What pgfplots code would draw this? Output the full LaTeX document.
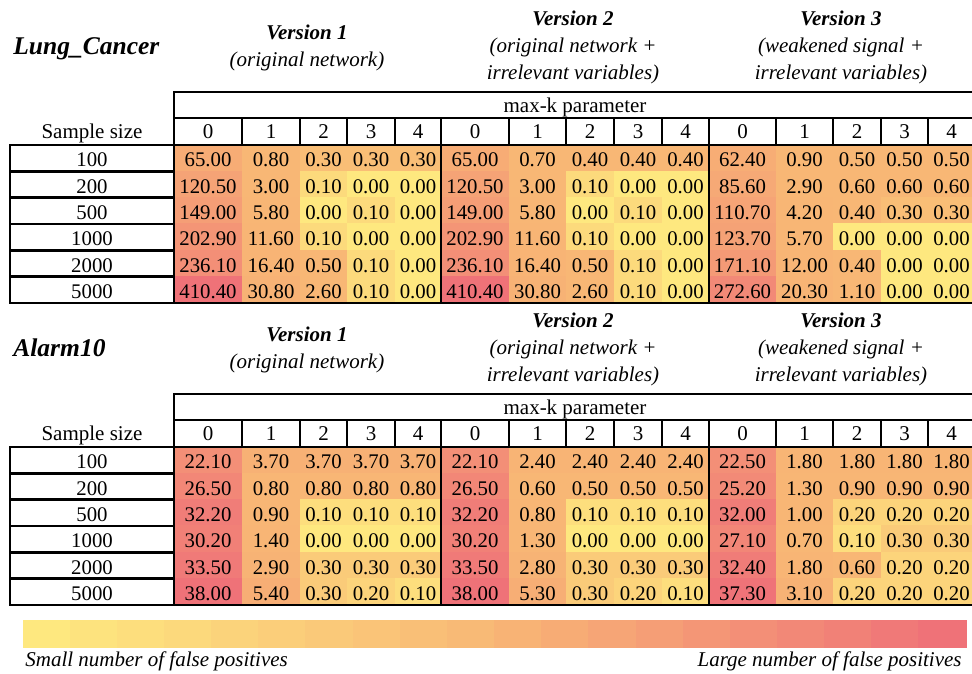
\documentclass[border=0pt]{standalone}
\usepackage{pgfplots}
\pgfplotsset{compat=1.18}
\usepackage{pgfplotstable}
\usepackage{fontspec}
\setmainfont{Liberation Serif}
\newcommand\cellfont{\fontsize{10.4}{12}\selectfont}
\newcommand\txtfont{\fontsize{10.5}{12}\selectfont}

\pgfplotstableread{
n k0 k1 k2 k3 k4 k5 k6 k7 k8 k9 k10 k11 k12 k13 k14
100 65.00 0.80 0.30 0.30 0.30 65.00 0.70 0.40 0.40 0.40 62.40 0.90 0.50 0.50 0.50
200 120.50 3.00 0.10 0.00 0.00 120.50 3.00 0.10 0.00 0.00 85.60 2.90 0.60 0.60 0.60
500 149.00 5.80 0.00 0.10 0.00 149.00 5.80 0.00 0.10 0.00 110.70 4.20 0.40 0.30 0.30
1000 202.90 11.60 0.10 0.00 0.00 202.90 11.60 0.10 0.00 0.00 123.70 5.70 0.00 0.00 0.00
2000 236.10 16.40 0.50 0.10 0.00 236.10 16.40 0.50 0.10 0.00 171.10 12.00 0.40 0.00 0.00
5000 410.40 30.80 2.60 0.10 0.00 410.40 30.80 2.60 0.10 0.00 272.60 20.30 1.10 0.00 0.00
}\lung

\pgfplotstableread{
n k0 k1 k2 k3 k4 k5 k6 k7 k8 k9 k10 k11 k12 k13 k14
100 22.10 3.70 3.70 3.70 3.70 22.10 2.40 2.40 2.40 2.40 22.50 1.80 1.80 1.80 1.80
200 26.50 0.80 0.80 0.80 0.80 26.50 0.60 0.50 0.50 0.50 25.20 1.30 0.90 0.90 0.90
500 32.20 0.90 0.10 0.10 0.10 32.20 0.80 0.10 0.10 0.10 32.00 1.00 0.20 0.20 0.20
1000 30.20 1.40 0.00 0.00 0.00 30.20 1.30 0.00 0.00 0.00 27.10 0.70 0.10 0.30 0.30
2000 33.50 2.90 0.30 0.30 0.30 33.50 2.80 0.30 0.30 0.30 32.40 1.80 0.60 0.20 0.20
5000 38.00 5.40 0.30 0.20 0.10 38.00 5.30 0.30 0.20 0.10 37.30 3.10 0.20 0.20 0.20
}\alarm

\pgfplotstableread{
i c
0 0.0000
1 0.0526
2 0.1053
3 0.1579
4 0.2105
5 0.2632
6 0.3158
7 0.3684
8 0.4211
9 0.4737
10 0.5263
11 0.5789
12 0.6316
13 0.6842
14 0.7368
15 0.7895
16 0.8421
17 0.8947
18 0.9474
19 1.0000
}\scalebar

\pgfplotsset{
  flatsq/.style={
    scatter, only marks, mark=square*, mark size=6.75pt,
    scatter/@pre marker code/.code={%
      \pgfplotscolormapdefinemappedcolor{\pgfplotspointmetatransformed}%
      \scope[draw=mapped color, fill=mapped color, line width=0.2pt]},
    scatter/@post marker code/.code={\endscope},
  },
  cellfill/.style n args={4}{
    flatsq,
    mark options={xscale={(0.5*#2+0.2)/13.5}},
    point meta={ifthenelse(\thisrow{#1}<#3,0.5*\thisrow{#1}/#3,0.5+0.5*(\thisrow{#1}-#3)/(#4-#3))},
  },
  celltext/.style={
    only marks, mark=none,
    visualization depends on={\thisrow{#1} \as \val},
    nodes near coords={\pgfmathprintnumber[fixed,fixed zerofill,precision=2,assume math mode=true]{\val}},
    nodes near coords align={center},
    every node near coord/.style={anchor=center, inner sep=0pt,
      text height=8.7pt, text depth=0pt, font=\cellfont, text=black},
  },
  table/cellxy/.style 2 args={x expr=#1, y expr={#2+26.3333*(\coordindex+0.5)}},
}

\begin{document}
\begin{tikzpicture}
\begin{axis}[
  scale only axis, width=486pt, height=336.5pt,
  xmin=0, xmax=972, ymin=0, ymax=673, y dir=reverse,
  hide axis, enlargelimits=false, clip=false,
  colormap={fp}{rgb255=(254,232,127) rgb255=(248,183,117) rgb255=(239,114,120)},
  point meta min=0, point meta max=1,
]
% Lung_Cancer: cell colours
\addplot[cellfill={k0}{68}{0.35}{410.4}] table[cellxy={208}{145}] {\lung};
\addplot[cellfill={k1}{58}{0.35}{410.4}] table[cellxy={271}{145}] {\lung};
\addplot[cellfill={k2}{47}{0.35}{410.4}] table[cellxy={323.5}{145}] {\lung};
\addplot[cellfill={k3}{48}{0.35}{410.4}] table[cellxy={371}{145}] {\lung};
\addplot[cellfill={k4}{46}{0.35}{410.4}] table[cellxy={418}{145}] {\lung};
\addplot[cellfill={k5}{68}{0.35}{410.4}] table[cellxy={475}{145}] {\lung};
\addplot[cellfill={k6}{57}{0.35}{410.4}] table[cellxy={537.5}{145}] {\lung};
\addplot[cellfill={k7}{48}{0.35}{410.4}] table[cellxy={590}{145}] {\lung};
\addplot[cellfill={k8}{48}{0.35}{410.4}] table[cellxy={638}{145}] {\lung};
\addplot[cellfill={k9}{47}{0.35}{410.4}] table[cellxy={685.5}{145}] {\lung};
\addplot[cellfill={k10}{67}{0.35}{410.4}] table[cellxy={742.5}{145}] {\lung};
\addplot[cellfill={k11}{57}{0.35}{410.4}] table[cellxy={804.5}{145}] {\lung};
\addplot[cellfill={k12}{48}{0.35}{410.4}] table[cellxy={857}{145}] {\lung};
\addplot[cellfill={k13}{47}{0.35}{410.4}] table[cellxy={904.5}{145}] {\lung};
\addplot[cellfill={k14}{47}{0.35}{410.4}] table[cellxy={951.5}{145}] {\lung};
% Alarm10: cell colours
\addplot[cellfill={k0}{68}{0.5}{38}] table[cellxy={208}{447}] {\alarm};
\addplot[cellfill={k1}{58}{0.5}{38}] table[cellxy={271}{447}] {\alarm};
\addplot[cellfill={k2}{47}{0.5}{38}] table[cellxy={323.5}{447}] {\alarm};
\addplot[cellfill={k3}{48}{0.5}{38}] table[cellxy={371}{447}] {\alarm};
\addplot[cellfill={k4}{46}{0.5}{38}] table[cellxy={418}{447}] {\alarm};
\addplot[cellfill={k5}{68}{0.5}{38}] table[cellxy={475}{447}] {\alarm};
\addplot[cellfill={k6}{57}{0.5}{38}] table[cellxy={537.5}{447}] {\alarm};
\addplot[cellfill={k7}{48}{0.5}{38}] table[cellxy={590}{447}] {\alarm};
\addplot[cellfill={k8}{48}{0.5}{38}] table[cellxy={638}{447}] {\alarm};
\addplot[cellfill={k9}{47}{0.5}{38}] table[cellxy={685.5}{447}] {\alarm};
\addplot[cellfill={k10}{67}{0.5}{38}] table[cellxy={742.5}{447}] {\alarm};
\addplot[cellfill={k11}{57}{0.5}{38}] table[cellxy={804.5}{447}] {\alarm};
\addplot[cellfill={k12}{48}{0.5}{38}] table[cellxy={857}{447}] {\alarm};
\addplot[cellfill={k13}{47}{0.5}{38}] table[cellxy={904.5}{447}] {\alarm};
\addplot[cellfill={k14}{47}{0.5}{38}] table[cellxy={951.5}{447}] {\alarm};
% cell values
\addplot[celltext=k0] table[cellxy={208}{145}] {\lung};
\addplot[celltext=k1] table[cellxy={271}{145}] {\lung};
\addplot[celltext=k2] table[cellxy={323.5}{145}] {\lung};
\addplot[celltext=k3] table[cellxy={371}{145}] {\lung};
\addplot[celltext=k4] table[cellxy={418}{145}] {\lung};
\addplot[celltext=k5] table[cellxy={475}{145}] {\lung};
\addplot[celltext=k6] table[cellxy={537.5}{145}] {\lung};
\addplot[celltext=k7] table[cellxy={590}{145}] {\lung};
\addplot[celltext=k8] table[cellxy={638}{145}] {\lung};
\addplot[celltext=k9] table[cellxy={685.5}{145}] {\lung};
\addplot[celltext=k10] table[cellxy={742.5}{145}] {\lung};
\addplot[celltext=k11] table[cellxy={804.5}{145}] {\lung};
\addplot[celltext=k12] table[cellxy={857}{145}] {\lung};
\addplot[celltext=k13] table[cellxy={904.5}{145}] {\lung};
\addplot[celltext=k14] table[cellxy={951.5}{145}] {\lung};
\addplot[celltext=k0] table[cellxy={208}{447}] {\alarm};
\addplot[celltext=k1] table[cellxy={271}{447}] {\alarm};
\addplot[celltext=k2] table[cellxy={323.5}{447}] {\alarm};
\addplot[celltext=k3] table[cellxy={371}{447}] {\alarm};
\addplot[celltext=k4] table[cellxy={418}{447}] {\alarm};
\addplot[celltext=k5] table[cellxy={475}{447}] {\alarm};
\addplot[celltext=k6] table[cellxy={537.5}{447}] {\alarm};
\addplot[celltext=k7] table[cellxy={590}{447}] {\alarm};
\addplot[celltext=k8] table[cellxy={638}{447}] {\alarm};
\addplot[celltext=k9] table[cellxy={685.5}{447}] {\alarm};
\addplot[celltext=k10] table[cellxy={742.5}{447}] {\alarm};
\addplot[celltext=k11] table[cellxy={804.5}{447}] {\alarm};
\addplot[celltext=k12] table[cellxy={857}{447}] {\alarm};
\addplot[celltext=k13] table[cellxy={904.5}{447}] {\alarm};
\addplot[celltext=k14] table[cellxy={951.5}{447}] {\alarm};
% colour scale
\addplot[flatsq, mark options={xscale={23.8/13.5}}, point meta=\thisrow{c}]
  table[x expr={23+47.15*(\thisrow{i}+0.5)}, y expr=633.5] {\scalebar};
\end{axis}

\begin{scope}[x=0.5pt, y=-0.5pt, shift={(0,336.5pt)}, line cap=rect]
\foreach \o in {0,302}{
  \draw[line width=1.3pt] (174,\o+92) -- (975,\o+92);
  \draw[line width=1.3pt] (174,\o+118) -- (975,\o+118);
  \draw[line width=1.3pt] (10,\o+145) -- (975,\o+145);
  \draw[line width=1.3pt] (10,\o+303) -- (975,\o+303);
  \draw[line width=1.3pt] (174,\o+92) -- (174,\o+303);
  \draw[line width=1.3pt] (10,\o+145) -- (10,\o+303);
  \foreach \yy in {171.33,197.67,224,250.33,276.67}
    \draw[line width=1.3pt] (10,\o+\yy) -- (174,\o+\yy);
  \foreach \xx in {441,709}
    \draw[line width=1.3pt] (\xx,\o+118) -- (\xx,\o+303);
  \foreach \xx in {242,300,347,395,509,566,614,662,776,833,881,928}
    \draw[line width=1.1pt] (\xx,\o+118) -- (\xx,\o+145);
  \foreach \xx/\t in {208/0,271/1,323.5/2,371/3,418/4,475/0,537.5/1,590/2,638/3,685.5/4,742.5/0,804.5/1,857/2,904.5/3,951.5/4}
    \node[anchor=base, font=\txtfont, inner sep=0pt] at (\xx,\o+139) {\t};
  \node[anchor=base, font=\txtfont, inner sep=0pt] at (92,\o+139) {Sample size};
  \node[anchor=base, font=\txtfont, inner sep=0pt] at (575,\o+113) {max-k parameter};
  \foreach \t [count=\i from 0] in {100,200,500,1000,2000,5000}
    \node[anchor=base, font=\cellfont, inner sep=0pt] at (92,\o+145+26.3333*\i+21.7) {\t};
  % version headings
  \node[anchor=base, font=\txtfont\bfseries\itshape, inner sep=0pt] at (307,\o+40) {Version 1};
  \node[anchor=base, font=\txtfont\itshape, inner sep=0pt] at (307,\o+66.5) {(original network)};
  \node[anchor=base, font=\txtfont\bfseries\itshape, inner sep=0pt] at (573,\o+26) {Version 2};
  \node[anchor=base, font=\txtfont\itshape, inner sep=0pt] at (573,\o+53) {(original network +};
  \node[anchor=base, font=\txtfont\itshape, inner sep=0pt] at (573,\o+80) {irrelevant variables)};
  \node[anchor=base, font=\txtfont\bfseries\itshape, inner sep=0pt] at (841,\o+26) {Version 3};
  \node[anchor=base, font=\txtfont\itshape, inner sep=0pt] at (841,\o+53) {(weakened signal +};
  \node[anchor=base, font=\txtfont\itshape, inner sep=0pt] at (841,\o+80) {irrelevant variables)};
}
\node[anchor=base west, font=\fontsize{12.75}{15}\selectfont\bfseries\itshape, inner sep=0pt] at (13,55) {Lung\_Cancer};
\node[anchor=base west, font=\fontsize{12.75}{15}\selectfont\bfseries\itshape, inner sep=0pt] at (13,357) {Alarm10};
\node[anchor=base west, font=\txtfont\itshape, inner sep=0pt] at (25,667) {Small number of false positives};
\node[anchor=base east, font=\txtfont\itshape, inner sep=0pt] at (962,667) {Large number of false positives};
\end{scope}
\pgfresetboundingbox
\path (0,0) rectangle (486pt,336.5pt);
\end{tikzpicture}
\end{document}
